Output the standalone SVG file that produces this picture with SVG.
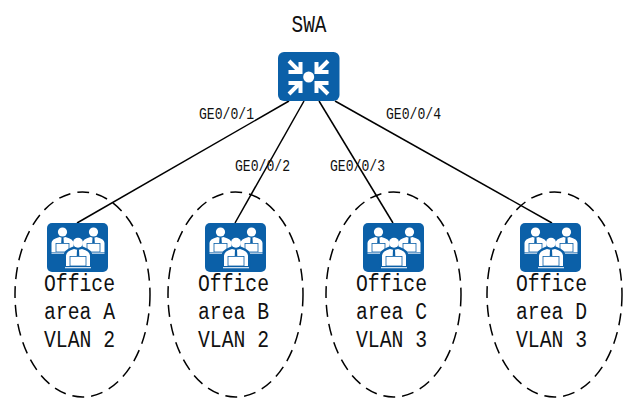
<svg xmlns="http://www.w3.org/2000/svg" xmlns:xlink="http://www.w3.org/1999/xlink" width="638" height="416" viewBox="0 0 638 416">
<style>
text{font-family:"Liberation Mono","Noto Sans CJK SC",monospace;fill:#111}
.n{font-size:23px}
.p{font-size:16px}
.e{fill:none;stroke:#000;stroke-width:1.5;stroke-dasharray:12 7}
.c line{stroke:#000;stroke-width:1.5}
.w{fill:#fff}
.a{fill:none;stroke:#fff;stroke-width:4}
</style>
<defs>
<g id="back">
<circle class="w" cx="0" cy="-10" r="4.6"/>
<path class="w" d="M-11 10V1Q-11 -3 -3 -5L0 -4L3 -5Q11 -3 11 1V10Z"/>
<path d="M-1 -4.500H1L1.300 1H-1.300Z" fill="#0b60a8"/>
<rect x="-6.500" y="1.500" width="13" height="8.500" fill="#fff" stroke="#0b60a8" stroke-width="0.800"/>
<rect x="-11" y="10.500" width="22" height="1.300" fill="#cfe0f0"/>
</g>
<g id="office">
<rect width="61" height="49" rx="5" fill="#0b60a8"/>
<use xlink:href="#back" href="#back" x="15.500" y="19"/>
<use xlink:href="#back" href="#back" x="46.500" y="19"/>
<path d="M16.500 45V33Q16.500 27 25 24L31 22L37 24Q45.500 27 45.500 33V45Z" fill="#0b60a8"/>
<circle class="w" cx="31" cy="19.700" r="5"/>
<path class="w" d="M19 43V33Q19 28 27 26L31 27L35 26Q43 28 43 33V43Z"/>
<path d="M30 26.500H32L32.300 33H29.700Z" fill="#0b60a8"/>
<rect x="23" y="33.500" width="16" height="9.500" fill="#fff" stroke="#0b60a8" stroke-width="0.800"/>
<rect x="18" y="44" width="26" height="1.300" fill="#cfe0f0"/>
</g>
</defs>
<g class="c" id="connectors">
<line x1="289" y1="101" x2="77" y2="223"/>
<line x1="304" y1="101" x2="235" y2="223"/>
<line x1="319" y1="101" x2="393" y2="223"/>
<line x1="335" y1="101" x2="552" y2="223"/>
</g>
<g id="swa">
<text class="n" x="291.500" y="32" textLength="35" lengthAdjust="spacingAndGlyphs">SWA</text>
<rect x="278" y="52" width="61.500" height="49" rx="6" fill="#0b60a8"/>
<circle class="w" cx="308.700" cy="77" r="5.500"/>
<path class="a" d="M300.500 62V72H288.500M289 61L300 72"/>
<path class="a" d="M316.500 62V72H328.500M328 61L317 72"/>
<path class="a" d="M300.500 93V83H288.500M289 94L300 83"/>
<path class="a" d="M316.500 93V83H328.500M328 94L317 83"/>
</g>
<g id="area-a">
<ellipse class="e" cx="82.500" cy="294.500" rx="67.500" ry="102.500"/>
<use xlink:href="#office" href="#office" x="47" y="223"/>
<text class="n" x="44" y="291" textLength="71" lengthAdjust="spacingAndGlyphs">Office</text>
<text class="n" x="44" y="319" textLength="71" lengthAdjust="spacingAndGlyphs">area A</text>
<text class="n" x="44" y="347" textLength="71" lengthAdjust="spacingAndGlyphs">VLAN 2</text>
</g>
<g id="area-b">
<ellipse class="e" cx="235.500" cy="294.500" rx="67.500" ry="102.500"/>
<use xlink:href="#office" href="#office" x="205" y="223"/>
<text class="n" x="198" y="291" textLength="71" lengthAdjust="spacingAndGlyphs">Office</text>
<text class="n" x="198" y="319" textLength="71" lengthAdjust="spacingAndGlyphs">area B</text>
<text class="n" x="198" y="347" textLength="71" lengthAdjust="spacingAndGlyphs">VLAN 2</text>
</g>
<g id="area-c">
<ellipse class="e" cx="393.500" cy="294.500" rx="67.500" ry="102.500"/>
<use xlink:href="#office" href="#office" x="363" y="223"/>
<text class="n" x="356" y="291" textLength="71" lengthAdjust="spacingAndGlyphs">Office</text>
<text class="n" x="356" y="319" textLength="71" lengthAdjust="spacingAndGlyphs">area C</text>
<text class="n" x="356" y="347" textLength="71" lengthAdjust="spacingAndGlyphs">VLAN 3</text>
</g>
<g id="area-d">
<ellipse class="e" cx="554.500" cy="294.500" rx="67.500" ry="102.500"/>
<use xlink:href="#office" href="#office" x="520" y="223"/>
<text class="n" x="516" y="291" textLength="71" lengthAdjust="spacingAndGlyphs">Office</text>
<text class="n" x="516" y="319" textLength="71" lengthAdjust="spacingAndGlyphs">area D</text>
<text class="n" x="516" y="347" textLength="71" lengthAdjust="spacingAndGlyphs">VLAN 3</text>
</g>
<g id="port-labels">
<text class="p" x="199" y="119" textLength="55" lengthAdjust="spacingAndGlyphs">GE0/0/1</text>
<text class="p" x="235" y="171" textLength="55" lengthAdjust="spacingAndGlyphs">GE0/0/2</text>
<text class="p" x="330" y="171" textLength="55" lengthAdjust="spacingAndGlyphs">GE0/0/3</text>
<text class="p" x="386" y="119" textLength="55" lengthAdjust="spacingAndGlyphs">GE0/0/4</text>
</g>
</svg>
